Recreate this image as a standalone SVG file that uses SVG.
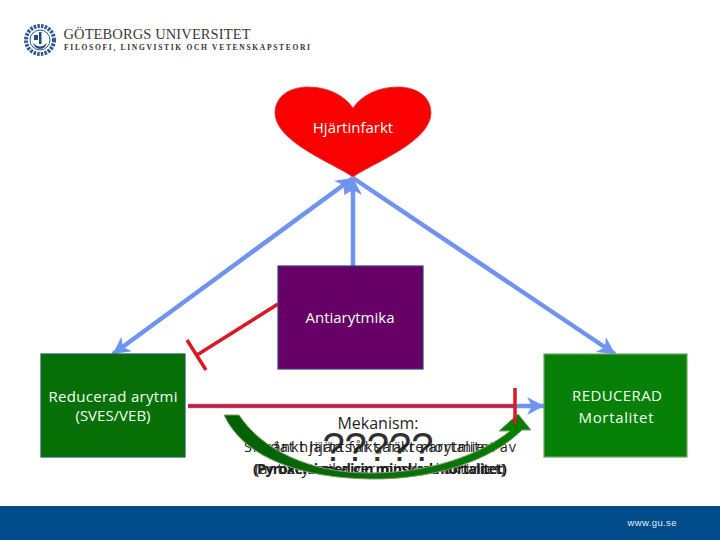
<svg xmlns="http://www.w3.org/2000/svg" width="720" height="540" viewBox="0 0 720 540">
<style>
text{font-family:"Open Sans","Liberation Sans",sans-serif;font-size:15px;text-anchor:middle}
.w{fill:#f4fff0}
.d{fill:#1f1f1f;font-size:14.5px}
.b{fill:none;stroke:#6f94f0;stroke-width:4.500}
.r{fill:none;stroke:#d81a24;stroke-width:3.500}
.box{stroke-width:1.200}
</style>
<defs>
<marker id="ah" markerUnits="userSpaceOnUse" markerWidth="20" markerHeight="20" refX="17" refY="9" orient="auto-start-reverse"><path d="M0 0L17 9L0 18L5 9Z" fill="#6f94f0"/></marker>
<linearGradient id="g" x1="0" x2="1" y1="0" y2="0"><stop offset="0" stop-color="#006000"/><stop offset="0.5" stop-color="#0a6e0a"/><stop offset="1" stop-color="#008000"/></linearGradient>
</defs>
<rect id="footer" x="0" y="506" width="720" height="34" fill="#004b89"/>
<text x="652" y="526" style="font-size:9.500px;fill:#e8eef5;font-family:'Liberation Sans',sans-serif" textLength="49">www.gu.se</text>
<g id="logo">
<circle cx="40" cy="40" r="14" fill="none" stroke="#2d5a94" stroke-width="4" stroke-dasharray="2.500 1.200"/>
<circle cx="40" cy="40" r="10" fill="#fff" stroke="#2d5a94" stroke-width="1"/>
<path d="M33 43Q40 50 47 43L45 47Q40 51 35 47ZM39 32h2.500v12h-2.500ZM34 35h4v5h-4Z" fill="#244c80"/>
<text x="157" y="39" style="font-family:'Liberation Serif',serif;font-size:14.500px;fill:#3a3a3a" textLength="187">GÖTEBORGS UNIVERSITET</text>
<text x="187" y="50" style="font-family:'Liberation Serif',serif;font-size:7.500px;font-weight:bold;fill:#333" textLength="246">FILOSOFI, LINGVISTIK OCH VETENSKAPSTEORI</text>
</g>
<g id="connectors">
<path class="b" d="M353 178L113 354" marker-start="url(#ah)" marker-end="url(#ah)"/>
<path class="b" d="M353 178L615 354" marker-end="url(#ah)"/>
<path class="b" d="M353 266V178" marker-end="url(#ah)"/>
<path class="b" d="M188 406H544" marker-end="url(#ah)"/>
<path d="M188 406H515" fill="none" stroke="#cf1a3a" stroke-width="3.500"/>
<path class="r" d="M278 304L197 355M187 340L206 370"/>
</g>
<g id="heart"><path d="M353 177C335 164 275 142 275 113C275 96 290 87 308 87C328 87 344 95 353 108C362 95 378 87 398 87C416 87 431 96 431 113C431 142 371 164 353 177Z" fill="#fa0000" stroke="#d04040" stroke-width="0.800"/><text class="w" x="353" y="133">Hjärtinfarkt</text></g>
<g id="antiarytmika"><rect class="box" x="278" y="266" width="145" height="103" fill="#660066" stroke="#3b3a7a"/><text class="w" x="350" y="323">Antiarytmika</text></g>
<g id="reducerad-arytmi"><rect class="box" x="41" y="354" width="144" height="103" fill="#067006" stroke="#1a5f4a"/><text class="w" x="113" y="402" textLength="129">Reducerad arytmi</text><text class="w" x="113" y="421">(SVES/VEB)</text></g>
<g id="reducerad-mortalitet"><rect class="box" x="544" y="354" width="143" height="103" fill="#078007" stroke="#6fa35f"/><text class="w" x="617" y="401" textLength="90">REDUCERAD</text><text class="w" x="616" y="423" textLength="75">Mortalitet</text></g>
<g id="mekanism">
<text x="378" y="461" style="font-size:40px;fill:#303030;font-family:'Liberation Sans',sans-serif">?????</text>
<text class="d" x="378" y="429" style="font-size:16px">Mekanism:</text>
<text class="d" x="380" y="452" textLength="272">Skadat hjärta får sänkt mortalitet av</text>
<text class="d" x="378" y="452" textLength="226">sänkt hjärtsvikt, färre arytmier</text>
<text class="d" x="380" y="474" textLength="254" style="font-weight:bold">(Pyroxen i medicin minskad mortalitet)</text>
<text class="d" x="380" y="474" textLength="250">(antiarytmika ger minskad aktivitet)</text>
<path d="M224 415L239 415C262 450 310 473 370 473C430 473 480 455 510 431L499 431L518 414L531 430L522 430C490 462 430 480 370 479C305 478 245 460 224 415Z" fill="url(#g)" stroke="#8a9a70" stroke-width="1"/>
<path d="M515 388V424" class="r"/>
</g>
</svg>
